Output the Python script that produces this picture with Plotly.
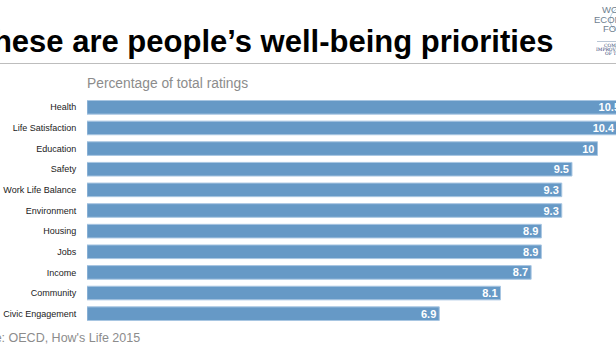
import plotly.graph_objects as go

categories = ["Health", "Life Satisfaction", "Education", "Safety", "Work Life Balance",
              "Environment", "Housing", "Jobs", "Income", "Community", "Civic Engagement"]
values = [10.5, 10.4, 10, 9.5, 9.3, 9.3, 8.9, 8.9, 8.7, 8.1, 6.9]
value_labels = ["10.5", "10.4", "10", "9.5", "9.3", "9.3", "8.9", "8.9", "8.7", "8.1", "6.9"]

title_text = "These are people’s well-being priorities"
subtitle_text = "Percentage of total ratings"
source_text = "Source: OECD, How's Life 2015"

W, H = 616, 346
L, R, T, B = 87, 0, 97, 22
PW, PH = W - L - R, H - T - B
PX_PER_UNIT = 51.05

def px_x(x):
    return (x - L) / PW

def px_y(y):
    return (H - B - y) / PH

FONT = "Liberation Sans, Arial, Helvetica, sans-serif"

fig = go.Figure(go.Bar(
    x=values, y=categories, orientation="h",
    text=value_labels, textposition="inside", insidetextanchor="end",
    constraintext="none",
    textfont=dict(family=FONT, size=11, color="white", weight="bold"),
    marker=dict(color="#6699c6", line=dict(color="#a8c6e2", width=1)),
    width=0.66, cliponaxis=True, hoverinfo="skip",
))

annotations = [
    dict(text="<b>" + title_text + "</b>", x=px_x(-28), y=px_y(41), xref="paper", yref="paper",
         xanchor="left", yanchor="middle", showarrow=False,
         font=dict(family=FONT, size=31, color="#000000")),
    dict(text=subtitle_text, x=px_x(85), y=px_y(83), xref="paper", yref="paper",
         xanchor="left", yanchor="middle", showarrow=False,
         font=dict(family=FONT, size=13.8, color="#8c8c8c")),
    dict(text=source_text, x=px_x(-40), y=px_y(338), xref="paper", yref="paper",
         xanchor="left", yanchor="middle", showarrow=False,
         font=dict(family=FONT, size=12.5, color="#8c8c8c")),
]

logo_lines = [("WORLD", 9, 9.5, "#6f7f90", 620), ("ECONOMIC", 19.5, 9.5, "#6f7f90", 620),
              ("FORUM", 29, 9.5, "#6f7f90", 620),
              ("COMMITTED TO", 45.5, 4.5, "#2a3a6e", 624), ("IMPROVING THE STATE", 49.5, 4.5, "#2a3a6e", 624),
              ("OF THE WORLD", 53.5, 4.5, "#2a3a6e", 624)]
for txt, yy, sz, col, cx in logo_lines:
    annotations.append(dict(text=txt, x=px_x(cx), y=px_y(yy), xref="paper", yref="paper",
                            xanchor="center", yanchor="middle", showarrow=False,
                            font=dict(family="DejaVu Serif" if sz < 8 else FONT, size=sz, color=col)))

shapes = [
    dict(type="line", xref="paper", yref="paper", x0=px_x(0), x1=px_x(W), y0=px_y(63.5), y1=px_y(63.5),
         line=dict(color="#bdbdbd", width=1)),
    dict(type="line", xref="paper", yref="paper", x0=px_x(597), x1=px_x(W), y0=px_y(41.5), y1=px_y(41.5),
         line=dict(color="#8aa0b8", width=0.6)),
    dict(type="circle", xref="paper", yref="paper", x0=px_x(610), x1=px_x(650), y0=px_y(5), y1=px_y(35),
         line=dict(color="#9fc3dd", width=0.8)),
]

fig.update_layout(
    width=W, height=H,
    margin=dict(l=L, r=R, t=T, b=B, pad=0),
    paper_bgcolor="white", plot_bgcolor="white",
    showlegend=False,
    bargap=0.34,
    xaxis=dict(range=[0, PW / PX_PER_UNIT], showgrid=False, zeroline=False,
               showticklabels=False, showline=False, fixedrange=True),
    yaxis=dict(autorange="reversed", showgrid=False, zeroline=False, showline=False,
               ticks="outside", ticklen=8, tickcolor="rgba(0,0,0,0)",
               tickfont=dict(family=FONT, size=9, color="#222222")),
    annotations=annotations,
    shapes=shapes,
)

fig.write_html("out.html", config={"displayModeBar": False})
